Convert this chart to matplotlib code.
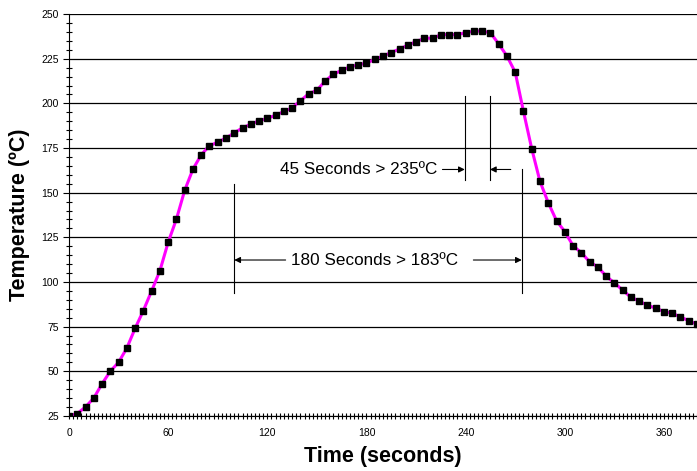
import matplotlib.pyplot as plt
import numpy as np
from matplotlib.ticker import MultipleLocator

# reflow profile, one reading every 5 seconds
time_s = list(range(0, 385, 5))
temp_c = [25, 26.3, 30, 35, 43, 50, 55, 63, 74, 84, 95, 106.3, 122.2,
          135.2, 151.3, 163.2, 171.2, 176.3, 178.3, 180.6, 183.5, 186.3, 188.4,
          190.3, 191.6, 193.4, 195.5, 197.5, 201.4, 205.4, 207.4, 212.5, 216.4,
          218.5, 220.5,
          221.6, 222.6, 224.6, 226.6, 228.5, 230.5, 232.6, 234.6, 236.5, 236.5,
          238.5, 238.5, 238.5, 239.6, 240.5, 240.5, 239.6, 233.3, 226.5, 217.5,
          195.5, 174.6, 156.3, 144.4, 134.3, 128.2,
          120.3, 116.4, 111.3, 108.4, 103.3, 99.4, 95.5, 91.4, 89.4, 86.9,
          85.4, 83.4, 82.5, 80.4, 78.3, 76.3]

x_ticks = [0, 60, 120, 180, 240, 300, 360]
y_ticks = [25, 50, 75, 100, 125, 150, 175, 200, 225, 250]

plt.rcParams['font.family'] = ['Liberation Sans', 'DejaVu Sans']

fig = plt.figure(figsize=(6.97, 4.71), dpi=100)
ax = fig.add_axes([0.099, 0.117, 0.901, 0.853])

ax.plot(time_s, temp_c, color='#ff00ff', lw=2.2, zorder=3)
ax.plot(time_s, temp_c, ls='none', marker='s', ms=4.8, color='black', zorder=4)

ax.set_xlim(0, 380)
ax.set_ylim(25, 250)
ax.set_xticks(x_ticks)
ax.set_yticks(y_ticks)
ax.xaxis.set_minor_locator(MultipleLocator(2.5))
ax.yaxis.set_minor_locator(MultipleLocator(5))
ax.tick_params(axis='both', which='major', labelsize=7.5, direction='out', length=4, width=0.8)
ax.tick_params(axis='x', which='both', direction='inout', length=5, width=0.8, pad=6)
ax.tick_params(axis='y', which='minor', direction='inout', length=5, width=0.8)

ax.grid(axis='y', which='major', color='black', lw=0.9)
ax.set_axisbelow(True)
for s in ['top', 'right']:
    ax.spines[s].set_visible(False)

ax.set_xlabel('Time (seconds)', fontsize=15.5, fontweight='bold', labelpad=6)
ax.set_ylabel('Temperature (ºC)', fontsize=15.5, fontweight='bold', labelpad=8)

arr = dict(arrowstyle='-|>', color='black', lw=0.8, mutation_scale=9, shrinkB=0)

# 180 seconds above 183 C: text with an arrow out to each line
lbl180 = '180 Seconds > 183ºC'
ax.plot([100, 100], [94, 155], color='black', lw=0.8)
ax.plot([274, 274], [94, 163], color='black', lw=0.8)
ax.annotate(lbl180, xy=(100, 112.3), xytext=(185, 112.3), fontsize=12.3,
            ha='center', va='center', arrowprops=arr)
ax.annotate('', xy=(274, 112.3), xytext=(243, 112.3), arrowprops=arr)

# 45 seconds above 235 C
ax.plot([239.5, 239.5], [157, 204.3], color='black', lw=0.8)
ax.plot([254.7, 254.7], [157, 204.3], color='black', lw=0.8)
ax.annotate('45 Seconds > 235ºC', xy=(239.5, 163), xytext=(175, 163), fontsize=12.3,
            ha='center', va='center', arrowprops=arr)
ax.annotate('', xy=(254.7, 163), xytext=(269, 163), arrowprops=arr)

fig.savefig('out.png', dpi=100)
